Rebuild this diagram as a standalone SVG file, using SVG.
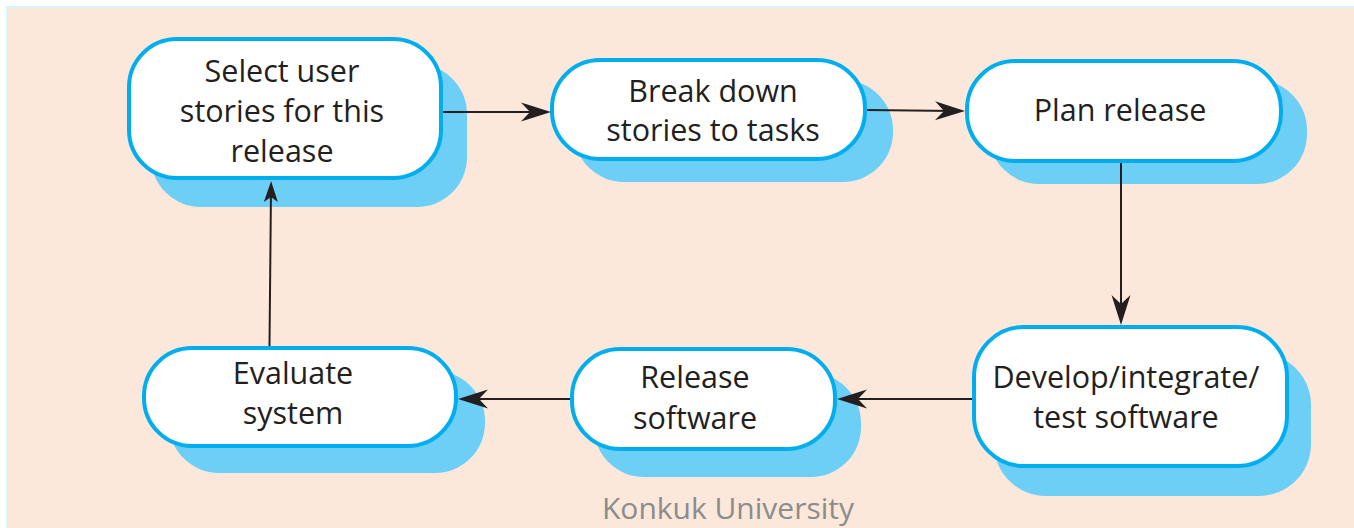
<svg xmlns="http://www.w3.org/2000/svg" width="1354" height="528" viewBox="0 0 1354 528">
<style>
.shadow{fill:#6DCFF6;stroke:none}
.box{fill:#FFFFFF;stroke:#00AEEF;stroke-width:4}
.lbl{font-family:"Open Sans","Noto Sans",sans-serif;font-size:30.5px;font-weight:500;fill:#231F20;text-anchor:middle}
.conn{stroke:#231F20;stroke-width:2;fill:none}
.big{marker-end:url(#ah)}
.small{marker-end:url(#ahs)}
.wm{font-family:"Open Sans","Noto Sans",sans-serif;font-size:30px;fill:#8C8C8C;text-anchor:middle}
</style>
<defs>
<marker id="ah" markerUnits="userSpaceOnUse" markerWidth="40" markerHeight="24" viewBox="-25 -12 40 24" refX="0" refY="0" orient="auto" overflow="visible">
<path d="M10,0 L-20,-9.5 L-11,0 L-20,9.5 Z" fill="#231F20"/>
</marker>
<marker id="ahs" markerUnits="userSpaceOnUse" markerWidth="30" markerHeight="20" viewBox="-20 -10 30 20" refX="0" refY="0" orient="auto" overflow="visible">
<path d="M8,0 L-13,-7 L-8,0 L-13,7 Z" fill="#231F20"/>
</marker>
</defs>
<rect x="7" y="7" width="1360" height="530" fill="#FCE8DA" stroke="#D5F7F9" stroke-width="2"/>

<g id="node-select">
<rect class="shadow" x="151" y="64" width="316" height="143" rx="50"/>
<rect class="box" x="129" y="39" width="312" height="139" rx="48"/>
<text class="lbl" x="282" y="82">Select user</text>
<text class="lbl" x="282" y="122">stories for this</text>
<text class="lbl" x="282" y="162">release</text>
</g>
<g id="node-break">
<rect class="shadow" x="574" y="80" width="319" height="102" rx="50"/>
<rect class="box" x="552" y="60" width="313" height="99" rx="48"/>
<text class="lbl" x="713" y="102">Break down</text>
<text class="lbl" x="713" y="141">stories to tasks</text>
</g>
<g id="node-plan">
<rect class="shadow" x="989" y="80" width="318" height="104" rx="50"/>
<rect class="box" x="967" y="61" width="314" height="100" rx="48"/>
<text class="lbl" x="1120" y="121">Plan release</text>
</g>
<g id="node-develop">
<rect class="shadow" x="994" y="353" width="317" height="143" rx="52"/>
<rect class="box" x="974" y="327" width="313" height="139" rx="50"/>
<text class="lbl" x="1126" y="388">Develop/integrate/</text>
<text class="lbl" x="1126" y="428">test software</text>
</g>
<g id="node-release">
<rect class="shadow" x="594" y="373" width="267" height="104" rx="50"/>
<rect class="box" x="572" y="349" width="263" height="100" rx="48"/>
<text class="lbl" x="695" y="388">Release</text>
<text class="lbl" x="695" y="429">software</text>
</g>
<g id="node-evaluate">
<rect class="shadow" x="169" y="371" width="316" height="102" rx="50"/>
<rect class="box" x="144" y="348" width="312" height="98" rx="48"/>
<text class="lbl" x="293" y="384">Evaluate</text>
<text class="lbl" x="293" y="424">system</text>
</g>

<g id="connectors">
<line class="conn big" x1="443" y1="112" x2="541" y2="112"/>
<line class="conn big" x1="867" y1="110" x2="955" y2="111"/>
<line class="conn big" x1="1121" y1="163" x2="1121" y2="315"/>
<line class="conn big" x1="972" y1="399" x2="847" y2="399"/>
<line class="conn big" x1="570" y1="399" x2="468" y2="399"/>
<line class="conn small" x1="269.5" y1="346" x2="271" y2="189"/>
</g>

<text class="wm" x="728" y="519">Konkuk University</text>
</svg>
